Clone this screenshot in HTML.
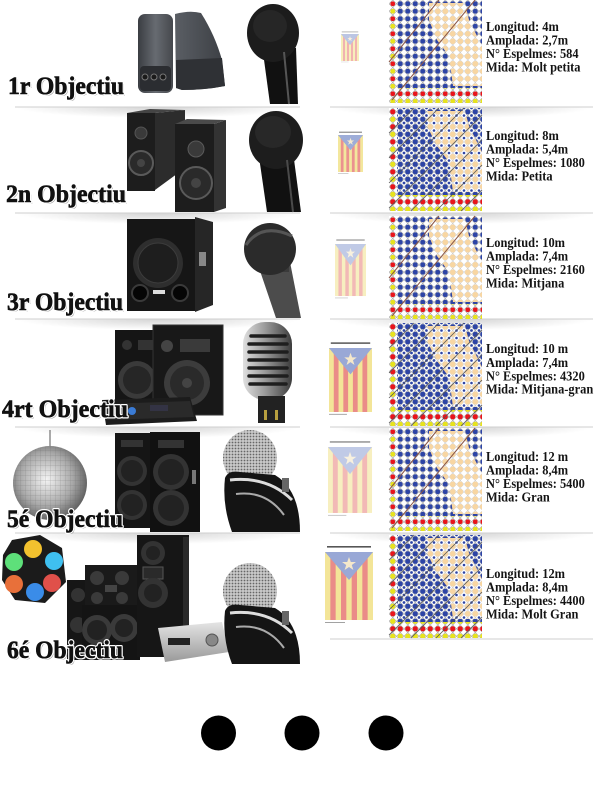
<!DOCTYPE html>
<html>
<head>
<meta charset="utf-8">
<style>
html,body{margin:0;padding:0;background:#fff;width:600px;height:799px;overflow:hidden}
svg{display:block}
</style>
</head>
<body>
<svg width="600" height="799" viewBox="0 0 600 799" xmlns="http://www.w3.org/2000/svg" xmlns:xlink="http://www.w3.org/1999/xlink">
<defs>
  <radialGradient id="sh" cx=".5" cy="0" r=".5">
    <stop offset="0" stop-color="#000" stop-opacity=".17"/>
    <stop offset="1" stop-color="#000" stop-opacity="0"/>
  </radialGradient>
  <linearGradient id="gSpk1" x1="0" x2="1" y1="0" y2="0">
    <stop offset="0" stop-color="#3a3d42"/><stop offset=".5" stop-color="#676b71"/><stop offset="1" stop-color="#45484d"/>
  </linearGradient>
  <linearGradient id="gSpk2" x1="0" x2="1" y1="0" y2="0">
    <stop offset="0" stop-color="#5a5e64"/><stop offset="1" stop-color="#3c3f44"/>
  </linearGradient>
  <linearGradient id="gSilver" x1="0" x2="1" y1="0" y2="0">
    <stop offset="0" stop-color="#e0e0e0"/><stop offset=".45" stop-color="#9a9a9a"/><stop offset="1" stop-color="#3c3c3c"/>
  </linearGradient>
  <linearGradient id="gRecv" x1="0" x2="0" y1="0" y2="1">
    <stop offset="0" stop-color="#e4e4e4"/><stop offset="1" stop-color="#9a9a9a"/>
  </linearGradient>
  <radialGradient id="gBall" cx=".45" cy=".45" r=".6">
    <stop offset="0" stop-color="#f4f4f4"/><stop offset=".6" stop-color="#a8a8a8"/><stop offset="1" stop-color="#555"/>
  </radialGradient>
  <pattern id="pDot" width="3" height="3" patternUnits="userSpaceOnUse">
    <rect width="3" height="3" fill="#c9c9c9"/><circle cx="1.5" cy="1.5" r="0.9" fill="#666"/>
  </pattern>
  <pattern id="pTile" width="5" height="5" patternUnits="userSpaceOnUse">
    <path d="M0 0H5M0 0V5" stroke="#666" stroke-width=".5" fill="none"/>
  </pattern>

  <pattern id="pB" width="7.5" height="7.5" patternUnits="userSpaceOnUse">
    <rect width="7.5" height="7.5" fill="#fff"/>
    <path d="M0 3.75L3.75 0M3.75 7.5L7.5 3.75M3.75 0L7.5 3.75M0 3.75L3.75 7.5" stroke="#a3a3a3" stroke-width=".6"/>
    <circle cx="3.75" cy="3.75" r="2.5" fill="#2d44a5"/>
  </pattern>
  <pattern id="pBB" width="7.5" height="7.5" patternUnits="userSpaceOnUse">
    <rect width="7.5" height="7.5" fill="#fff"/>
    <path d="M0 3.75L3.75 0M3.75 7.5L7.5 3.75M3.75 0L7.5 3.75M0 3.75L3.75 7.5" stroke="#a3a3a3" stroke-width=".6"/>
    <circle cx="3.75" cy="3.75" r="2.6" fill="#2d44a5"/>
    <circle cx="0" cy="0" r="1.4" fill="#2d44a5"/><circle cx="7.5" cy="0" r="1.4" fill="#2d44a5"/>
    <circle cx="0" cy="7.5" r="1.4" fill="#2d44a5"/><circle cx="7.5" cy="7.5" r="1.4" fill="#2d44a5"/>
  </pattern>
  <pattern id="pP" width="7.5" height="7.5" patternUnits="userSpaceOnUse">
    <rect width="7.5" height="7.5" fill="#fff"/>
    <path d="M0 3.75L3.75 0M3.75 7.5L7.5 3.75M3.75 0L7.5 3.75M0 3.75L3.75 7.5" stroke="#b0b0b0" stroke-width=".5"/>
    <circle cx="3.75" cy="3.75" r="2.8" fill="#f8d6a2"/>
  </pattern>
  <pattern id="pPB" width="7.5" height="7.5" patternUnits="userSpaceOnUse">
    <rect width="7.5" height="7.5" fill="#fff"/>
    <path d="M0 3.75L3.75 0M3.75 7.5L7.5 3.75M3.75 0L7.5 3.75M0 3.75L3.75 7.5" stroke="#b0b0b0" stroke-width=".5"/>
    <circle cx="3.75" cy="3.75" r="2.8" fill="#f8d6a2"/>
    <circle cx="0" cy="0" r="1.3" fill="#2d44a5"/><circle cx="7.5" cy="0" r="1.3" fill="#2d44a5"/>
    <circle cx="0" cy="7.5" r="1.3" fill="#2d44a5"/><circle cx="7.5" cy="7.5" r="1.3" fill="#2d44a5"/>
  </pattern>
  <pattern id="pRY" width="7.5" height="15" patternUnits="userSpaceOnUse">
    <rect width="7.5" height="15" fill="#fff"/>
    <path d="M0 3.75L3.75 0M3.75 7.5L7.5 3.75M3.75 0L7.5 3.75M0 3.75L3.75 7.5M0 11.25L3.75 7.5M3.75 15L7.5 11.25M3.75 7.5L7.5 11.25M0 11.25L3.75 15" stroke="#a3a3a3" stroke-width=".6"/>
    <circle cx="3.75" cy="3.75" r="2.6" fill="#e8141b"/>
    <circle cx="3.75" cy="11.25" r="2.6" fill="#e7e31d"/>
  </pattern>
  <pattern id="pRYs" width="7.5" height="15" patternUnits="userSpaceOnUse">
    <rect width="7.5" height="15" fill="#fff"/>
    <path d="M0 3.75L3.75 0M3.75 7.5L7.5 3.75M3.75 0L7.5 3.75M0 3.75L3.75 7.5M0 11.25L3.75 7.5M3.75 15L7.5 11.25M3.75 7.5L7.5 11.25M0 11.25L3.75 15" stroke="#a3a3a3" stroke-width=".6"/>
    <circle cx="3.75" cy="3.75" r="2.4" fill="#e8141b"/>
    <circle cx="3.75" cy="11.25" r="2.4" fill="#e7e31d"/>
  </pattern>

  <g id="patL">
    <rect width="93" height="103" fill="url(#pB)"/>
    <polygon points="40,3 76,3 80,20 93,46 93,86 64,86 60,56 48,40 40,20" fill="url(#pP)"/>
    <rect x="0" y="0" width="8" height="103" fill="url(#pRYs)"/>
    <rect x="0" y="88" width="93" height="15" fill="url(#pRYs)"/>
    <line x1="50" y1="0" x2="0" y2="62" stroke="#8a5646" stroke-width="1"/>
    <line x1="86" y1="0" x2="3" y2="100" stroke="#8a5646" stroke-width="1"/>
  </g>
  <g id="patD">
    <rect width="93" height="103" fill="url(#pBB)"/>
    <polygon points="38,3 76,3 80,18 93,44 93,84 64,84 60,54 48,38 38,18" fill="url(#pPB)"/>
    <rect x="0" y="0" width="8" height="103" fill="url(#pRY)"/>
    <rect x="0" y="87" width="93" height="16" fill="url(#pRY)"/>
    <g stroke="#555" stroke-width=".8">
      <line x1="25" y1="0" x2="0" y2="25"/>
      <line x1="50" y1="0" x2="0" y2="50"/>
      <line x1="75" y1="0" x2="0" y2="75"/>
      <line x1="93" y1="7" x2="0" y2="100"/>
      <line x1="93" y1="32" x2="22" y2="103"/>
      <line x1="93" y1="57" x2="47" y2="103"/>
      <line x1="93" y1="82" x2="72" y2="103"/>
    </g>
  </g>

  <g id="flag">
    <rect x="2" y="-6" width="44" height="1.6" fill="#444"/>
    <rect x="0" y="0" width="48" height="68" fill="#f2e38d"/>
    <rect x="5.33" y="0" width="5.33" height="68" fill="#e8807c"/>
    <rect x="16" y="0" width="5.33" height="68" fill="#e8807c"/>
    <rect x="26.67" y="0" width="5.33" height="68" fill="#e8807c"/>
    <rect x="37.33" y="0" width="5.33" height="68" fill="#e8807c"/>
    <polygon points="0,0 48,0 24,28" fill="#8e9fd2"/>
    <polygon points="24,5 25.8,10 31,10 26.8,13 28.4,18 24,15 19.6,18 21.2,13 17,10 22.2,10" fill="#f4e6c6"/>
    <rect x="0" y="70" width="20" height="1" fill="#999"/>
  </g>
</defs>

<g>
  <rect x="15" y="107" width="285" height="22" fill="url(#sh)"/>
  <rect x="330" y="107" width="263" height="22" fill="url(#sh)"/>
  <rect x="15" y="213" width="285" height="22" fill="url(#sh)"/>
  <rect x="330" y="213" width="263" height="22" fill="url(#sh)"/>
  <rect x="15" y="319" width="285" height="22" fill="url(#sh)"/>
  <rect x="330" y="319" width="263" height="22" fill="url(#sh)"/>
  <rect x="15" y="427" width="285" height="22" fill="url(#sh)"/>
  <rect x="330" y="427" width="263" height="22" fill="url(#sh)"/>
  <rect x="15" y="533" width="285" height="22" fill="url(#sh)"/>
  <rect x="330" y="533" width="263" height="22" fill="url(#sh)"/>
  <g stroke="#cfcfcf" stroke-width="1">
    <line x1="15" y1="107" x2="300" y2="107"/><line x1="330" y1="107" x2="593" y2="107"/>
    <line x1="15" y1="213" x2="300" y2="213"/><line x1="330" y1="213" x2="593" y2="213"/>
    <line x1="15" y1="319" x2="300" y2="319"/><line x1="330" y1="319" x2="593" y2="319"/>
    <line x1="15" y1="427" x2="300" y2="427"/><line x1="330" y1="427" x2="593" y2="427"/>
    <line x1="15" y1="533" x2="300" y2="533"/><line x1="330" y1="533" x2="593" y2="533"/>
    <line x1="330" y1="639" x2="593" y2="639"/>
  </g>
</g>

<!-- ROW 1 -->
<g>
  <rect x="138" y="14" width="35" height="79" rx="7" fill="url(#gSpk1)"/>
  <rect x="140" y="66" width="31" height="25" rx="4" fill="#2b2d31"/>
  <circle cx="145" cy="77" r="3" fill="#1a1a1a" stroke="#777" stroke-width="1"/>
  <circle cx="154" cy="77" r="3" fill="#1a1a1a" stroke="#777" stroke-width="1"/>
  <circle cx="163" cy="77" r="3" fill="#1a1a1a" stroke="#777" stroke-width="1"/>
  <path d="M175 14 Q190 10 201 13 Q215 35 222 60 L225 86 Q205 90 182 90 L176 88 Z" fill="url(#gSpk2)"/>
  <path d="M176 60 L222 58 L225 86 Q205 90 182 90 L176 88 Z" fill="#2f3135"/>
  <path d="M262 45 L296 48 L298 104 L270 104 Z" fill="#111"/>
  <ellipse cx="273" cy="33" rx="26" ry="29" fill="#1c1c1c"/>
  <ellipse cx="270" cy="26" rx="17" ry="16" fill="#262626"/>
  <line x1="284" y1="52" x2="289" y2="104" stroke="#555" stroke-width="2"/>
</g>

<!-- ROW 2 -->
<g>
  <rect x="127" y="113" width="28" height="78" fill="#1d1d1d"/>
  <polygon points="155,113 185,110 185,168 155,190" fill="#2c2c2c"/>
  <polygon points="127,113 150,109 185,110 155,113" fill="#444"/>
  <circle cx="141" cy="133" r="6" fill="#3a3a3a" stroke="#555"/>
  <circle cx="141" cy="163" r="12" fill="#2a2a2a" stroke="#5a5a5a" stroke-width="2"/>
  <circle cx="141" cy="163" r="4" fill="#444"/>
  <rect x="175" y="124" width="39" height="88" fill="#1d1d1d"/>
  <polygon points="214,124 226,120 226,208 214,212" fill="#333"/>
  <polygon points="175,124 187,119 226,120 214,124" fill="#4a4a4a"/>
  <circle cx="196" cy="149" r="8" fill="#3a3a3a" stroke="#5a5a5a"/>
  <circle cx="196" cy="183" r="16" fill="#2a2a2a" stroke="#5a5a5a" stroke-width="2"/>
  <circle cx="196" cy="183" r="5" fill="#444"/>
  <path d="M258 150 L293 152 L301 212 L267 212 Z" fill="#111"/>
  <ellipse cx="276" cy="140" rx="27" ry="29" fill="#1d1d1d"/>
  <ellipse cx="273" cy="132" rx="18" ry="16" fill="#282828"/>
  <line x1="287" y1="160" x2="293" y2="212" stroke="#4a4a4a" stroke-width="2"/>
</g>

<!-- ROW 3 -->
<g>
  <rect x="127" y="219" width="68" height="92" fill="#161616"/>
  <polygon points="195,217 213,222 213,305 195,312" fill="#262626"/>
  <circle cx="158" cy="263" r="25" fill="#2e2e2e"/>
  <circle cx="158" cy="263" r="20" fill="#1e1e1e" stroke="#3c3c3c"/>
  <circle cx="140" cy="293" r="8" fill="#050505" stroke="#3a3a3a" stroke-width="2"/>
  <circle cx="180" cy="293" r="8" fill="#050505" stroke="#3a3a3a" stroke-width="2"/>
  <rect x="153" y="290" width="12" height="4" fill="#ddd"/>
  <rect x="199" y="252" width="7" height="14" fill="#888"/>
  <path d="M257 262 L290 262 L301 318 L276 318 Z" fill="#4c4c4c"/>
  <rect x="258" y="262" width="31" height="10" fill="#3a3a3a"/>
  <ellipse cx="270" cy="249" rx="26" ry="26" fill="#2b2b2b"/>
  <path d="M246 245 Q262 222 292 236" stroke="#555" stroke-width="3" fill="none"/>
</g>

<!-- ROW 4 -->
<g>
  <rect x="115" y="330" width="45" height="76" fill="#151515"/>
  <circle cx="137" cy="380" r="19" fill="#3a3a3a"/>
  <circle cx="137" cy="380" r="14" fill="#262626"/>
  <circle cx="127" cy="345" r="5" fill="#333"/>
  <rect x="138" y="340" width="15" height="10" fill="#333"/>
  <rect x="153" y="325" width="70" height="90" fill="#181818" stroke="#333"/>
  <circle cx="187" cy="383" r="23" fill="#3c3c3c"/>
  <circle cx="187" cy="383" r="17" fill="#2a2a2a"/>
  <circle cx="187" cy="383" r="5" fill="#444"/>
  <circle cx="167" cy="346" r="6" fill="#444"/>
  <rect x="180" y="339" width="30" height="13" fill="#3a3a3a"/>
  <polygon points="102,400 190,397 197,421 106,425" fill="#1c1c1c"/>
  <polygon points="104,404 190,401 194,417 107,420" fill="#2a2a2a"/>
  <circle cx="132" cy="411" r="4" fill="#3a7bd5"/>
  <rect x="150" y="405" width="18" height="6" fill="#334"/>
  <rect x="243" y="322" width="49" height="78" rx="22" fill="url(#gSilver)"/>
  <g stroke="#1e1e1e" stroke-width="3.5" stroke-linecap="round">
    <line x1="251" y1="336" x2="285" y2="336"/>
    <line x1="249" y1="344" x2="287" y2="344"/>
    <line x1="249" y1="352" x2="287" y2="352"/>
    <line x1="249" y1="360" x2="287" y2="360"/>
    <line x1="249" y1="368" x2="287" y2="368"/>
    <line x1="249" y1="376" x2="287" y2="376"/>
    <line x1="250" y1="384" x2="286" y2="384"/>
  </g>
  <rect x="258" y="396" width="27" height="27" fill="#222"/>
  <rect x="264" y="410" width="3" height="10" fill="#b8a040"/>
  <rect x="275" y="410" width="3" height="10" fill="#b8a040"/>
</g>

<!-- ROW 5 -->
<g>
  <line x1="50" y1="430" x2="50" y2="447" stroke="#555" stroke-width="1"/>
  <circle cx="50" cy="483" r="37" fill="url(#gBall)"/>
  <circle cx="50" cy="483" r="37" fill="url(#pTile)" opacity=".6"/>
  <rect x="115" y="433" width="36" height="95" fill="#151515"/>
  <rect x="150" y="432" width="50" height="100" fill="#111"/>
  <rect x="121" y="440" width="22" height="7" fill="#333"/>
  <rect x="158" y="440" width="26" height="8" fill="#333"/>
  <circle cx="132" cy="471" r="15" fill="#333"/><circle cx="132" cy="471" r="11" fill="#222"/>
  <circle cx="132" cy="505" r="15" fill="#333"/><circle cx="132" cy="505" r="11" fill="#222"/>
  <circle cx="171" cy="472" r="18" fill="#333"/><circle cx="171" cy="472" r="13" fill="#222"/>
  <circle cx="171" cy="508" r="18" fill="#333"/><circle cx="171" cy="508" r="13" fill="#222"/>
  <rect x="192" y="470" width="4" height="14" fill="#777"/>
  <ellipse cx="250" cy="458" rx="27" ry="28" fill="url(#pDot)"/>
  <path d="M225 478 Q228 470 240 472 L275 475 Q300 490 300 532 L232 532 Q222 505 225 478 Z" fill="#141414"/>
  <path d="M230 480 Q268 476 292 500" stroke="#ddd" stroke-width="3" fill="none"/>
  <path d="M236 494 Q266 490 284 515" stroke="#aaa" stroke-width="2" fill="none"/>
  <rect x="282" y="478" width="7" height="14" fill="#666"/>
</g>

<!-- ROW 6 -->
<g>
  <polygon points="12,540 40,535 62,548 66,582 45,603 15,600 2,580 3,555" fill="#1b1b1b"/>
  <circle cx="33" cy="549" r="9" fill="#f2c12e"/>
  <circle cx="54" cy="561" r="9" fill="#3fc0f0"/>
  <circle cx="52" cy="583" r="9" fill="#e0504a"/>
  <circle cx="35" cy="592" r="9" fill="#3a8ce8"/>
  <circle cx="14" cy="584" r="9" fill="#e8703a"/>
  <circle cx="14" cy="562" r="9" fill="#5ee07a"/>
  <rect x="67" y="580" width="22" height="80" fill="#161616"/>
  <circle cx="78" cy="595" r="7" fill="#333"/><circle cx="78" cy="625" r="8" fill="#333"/>
  <rect x="85" y="565" width="52" height="45" fill="#1a1a1a"/>
  <circle cx="97" cy="578" r="7" fill="#3a3a3a"/><circle cx="122" cy="578" r="7" fill="#3a3a3a"/>
  <circle cx="97" cy="598" r="6" fill="#3a3a3a"/><circle cx="122" cy="598" r="6" fill="#3a3a3a"/>
  <rect x="105" y="585" width="12" height="7" fill="#444"/>
  <rect x="82" y="605" width="58" height="55" fill="#141414"/>
  <circle cx="97" cy="630" r="15" fill="#3a3a3a"/><circle cx="97" cy="630" r="10" fill="#222"/>
  <circle cx="124" cy="628" r="14" fill="#3a3a3a"/><circle cx="124" cy="628" r="9" fill="#222"/>
  <rect x="137" y="535" width="52" height="122" fill="#161616"/>
  <rect x="183" y="537" width="6" height="120" fill="#2a2a2a"/>
  <circle cx="153" cy="553" r="12" fill="#333"/><circle cx="153" cy="553" r="7" fill="#222"/>
  <rect x="143" y="567" width="20" height="12" fill="#2a2a2a" stroke="#555"/>
  <circle cx="153" cy="593" r="15" fill="#333"/><circle cx="153" cy="593" r="9" fill="#222"/>
  <polygon points="158,628 222,622 229,652 165,662" fill="url(#gRecv)"/>
  <rect x="168" y="638" width="22" height="7" fill="#222"/>
  <circle cx="212" cy="640" r="6" fill="#888" stroke="#555"/>
  <ellipse cx="250" cy="591" rx="27" ry="28" fill="url(#pDot)"/>
  <path d="M225 611 Q228 603 240 605 L275 608 Q300 623 300 664 L232 664 Q222 638 225 611 Z" fill="#141414"/>
  <path d="M230 613 Q268 609 292 633" stroke="#ddd" stroke-width="3" fill="none"/>
  <path d="M236 627 Q266 623 284 648" stroke="#aaa" stroke-width="2" fill="none"/>
  <rect x="282" y="611" width="7" height="14" fill="#666"/>
</g>

<use xlink:href="#flag" transform="translate(341,34) scale(0.375,0.397)" opacity=".6"/>
<use xlink:href="#flag" transform="translate(338,135) scale(0.521,0.544)" opacity=".85"/>
<use xlink:href="#flag" transform="translate(335,244) scale(0.646,0.765)" opacity=".55"/>
<use xlink:href="#flag" transform="translate(329,348) scale(0.896,0.941)" opacity=".9"/>
<use xlink:href="#flag" transform="translate(328,447) scale(0.917,0.97)" opacity=".55"/>
<use xlink:href="#flag" transform="translate(325,552) scale(1,1)" opacity=".9"/>

<use xlink:href="#patL" x="389" y="0"/>
<use xlink:href="#patD" x="389" y="108"/>
<use xlink:href="#patL" x="389" y="216"/>
<use xlink:href="#patD" x="389" y="323"/>
<use xlink:href="#patL" x="389" y="428"/>
<use xlink:href="#patD" x="389" y="535"/>

<g transform="translate(486,0) scale(0.92,1)" font-family="'Liberation Serif', serif" font-weight="bold" font-size="13.5" fill="#141414">
  <text x="0" y="31">Longitud: 4m</text>
  <text x="0" y="44.5">Amplada: 2,7m</text>
  <text x="0" y="58">N° Espelmes: 584</text>
  <text x="0" y="71.5">Mida: Molt petita</text>

  <text x="0" y="140">Longitud: 8m</text>
  <text x="0" y="153.5">Amplada: 5,4m</text>
  <text x="0" y="167">N° Espelmes: 1080</text>
  <text x="0" y="180.5">Mida: Petita</text>

  <text x="0" y="247">Longitud: 10m</text>
  <text x="0" y="260.5">Amplada: 7,4m</text>
  <text x="0" y="274">N° Espelmes: 2160</text>
  <text x="0" y="287.5">Mida: Mitjana</text>

  <text x="0" y="353">Longitud: 10 m</text>
  <text x="0" y="367">Amplada: 7,4m</text>
  <text x="0" y="380.5">N° Espelmes: 4320</text>
  <text x="0" y="393.5">Mida: Mitjana-gran</text>

  <text x="0" y="461">Longitud: 12 m</text>
  <text x="0" y="474.5">Amplada: 8,4m</text>
  <text x="0" y="488">N° Espelmes: 5400</text>
  <text x="0" y="501.5">Mida: Gran</text>

  <text x="0" y="578">Longitud: 12m</text>
  <text x="0" y="591.5">Amplada: 8,4m</text>
  <text x="0" y="605">N° Espelmes: 4400</text>
  <text x="0" y="618.5">Mida: Molt Gran</text>
</g>

<g font-family="'Liberation Serif', serif" font-weight="bold" font-size="25">
  <g fill="#777" opacity=".7">
    <text x="9.5" y="95.5" textLength="116" lengthAdjust="spacingAndGlyphs">1r Objectiu</text>
    <text x="7.5" y="203.5" textLength="120" lengthAdjust="spacingAndGlyphs">2n Objectiu</text>
    <text x="8.5" y="311.5" textLength="116" lengthAdjust="spacingAndGlyphs">3r Objectiu</text>
    <text x="3.5" y="418.5" textLength="126" lengthAdjust="spacingAndGlyphs">4rt Objectiu</text>
    <text x="8.5" y="528.5" textLength="116" lengthAdjust="spacingAndGlyphs">5é Objectiu</text>
    <text x="8.5" y="659.5" textLength="116" lengthAdjust="spacingAndGlyphs">6é Objectiu</text>
  </g>
  <g fill="#111" stroke="#fff" stroke-width="3" paint-order="stroke" stroke-linejoin="round">
    <text x="8" y="94" textLength="116" lengthAdjust="spacingAndGlyphs">1r Objectiu</text>
    <text x="6" y="202" textLength="120" lengthAdjust="spacingAndGlyphs">2n Objectiu</text>
    <text x="7" y="310" textLength="116" lengthAdjust="spacingAndGlyphs">3r Objectiu</text>
    <text x="2" y="417" textLength="126" lengthAdjust="spacingAndGlyphs">4rt Objectiu</text>
    <text x="7" y="527" textLength="116" lengthAdjust="spacingAndGlyphs">5é Objectiu</text>
    <text x="7" y="658" textLength="116" lengthAdjust="spacingAndGlyphs">6é Objectiu</text>
  </g>
  <g fill="#111" stroke="#111" stroke-width=".6">
    <text x="8" y="94" textLength="116" lengthAdjust="spacingAndGlyphs">1r Objectiu</text>
    <text x="6" y="202" textLength="120" lengthAdjust="spacingAndGlyphs">2n Objectiu</text>
    <text x="7" y="310" textLength="116" lengthAdjust="spacingAndGlyphs">3r Objectiu</text>
    <text x="2" y="417" textLength="126" lengthAdjust="spacingAndGlyphs">4rt Objectiu</text>
    <text x="7" y="527" textLength="116" lengthAdjust="spacingAndGlyphs">5é Objectiu</text>
    <text x="7" y="658" textLength="116" lengthAdjust="spacingAndGlyphs">6é Objectiu</text>
  </g>
</g>

<circle cx="218.5" cy="733" r="17.5" fill="#000"/>
<circle cx="302" cy="733" r="17.5" fill="#000"/>
<circle cx="386" cy="733" r="17.5" fill="#000"/>
</svg>
</body>
</html>
